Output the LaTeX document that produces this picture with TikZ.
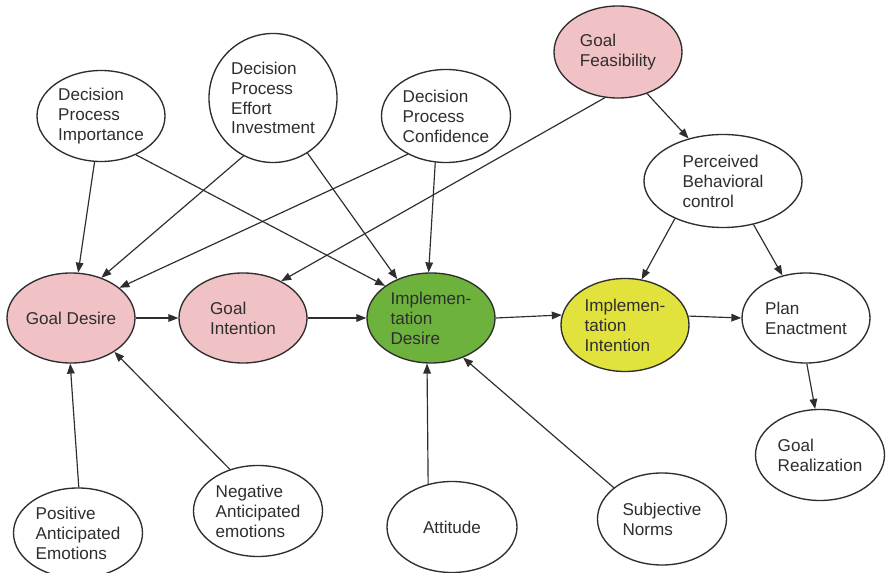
\documentclass[tikz,border=0pt]{standalone}
\usepackage{fontspec}
\setmainfont{Liberation Sans}
\usetikzlibrary{shapes.geometric,arrows.meta}
\definecolor{pinkfill}{HTML}{F0C2C5}
\definecolor{greenfill}{HTML}{6DB23D}
\definecolor{yellowfill}{HTML}{E2E23C}
\definecolor{ink}{HTML}{2E2E2E}
\begin{document}
\begin{tikzpicture}[x=0.03cm,y=-0.03cm,
  el/.style={ellipse, draw=ink, line width=1.15pt, inner sep=0pt, align=left, text=ink,
    font=\fontsize{14.6}{17}\selectfont, minimum width=3.84cm, minimum height=2.73cm},
  arr/.style={draw=ink, line width=1pt, -{Triangle[length=8.5pt,width=6.5pt]}}]
\useasboundingbox (0,0) rectangle (886,573);
\fill[white] (0,0) rectangle (886,573);
% nodes
\node[el] (dpi) at (101,116) {Decision\\Process\\Importance};
\node[el, minimum height=3.87cm] (dpei) at (273,98) {Decision\\Process\\Effort\\Investment};
\node[el, minimum width=3.87cm, minimum height=2.79cm] (dpc) at (446,116) {Decision\\Process\\Confidence};
\node[el, fill=pinkfill, minimum height=2.76cm] (gf) at (618,52) {Goal\\Feasibility};
\node[el, minimum width=4.74cm, minimum height=2.79cm] (pbc) at (723,181) {Perceived\\Behavioral\\control};
\node[el, fill=pinkfill, minimum height=2.7cm] (gd) at (71,318) {Goal Desire};
\node[el, fill=pinkfill, minimum height=2.7cm] (gi) at (243,318) {Goal\\Intention};
\node[el, fill=greenfill, minimum height=2.7cm] (id) at (431,318) {Implemen-\\tation\\Desire};
\node[el, fill=yellowfill, minimum height=2.79cm] (ii) at (625,325) {Implemen-\\tation\\Intention};
\node[el, minimum height=2.7cm] (pe) at (806,318) {Plan\\Enactment};
\node[el, minimum width=3.87cm] (gr) at (820,455) {Goal\\Realization};
\node[el, minimum width=3.87cm, minimum height=2.7cm] (pae) at (78,533) {Positive\\Anticipated\\Emotions};
\node[el, minimum width=3.87cm] (nae) at (258,511) {Negative\\Anticipated\\emotions};
\node[el, minimum width=3.9cm] (att) at (452,527) {Attitude};
\node[el, minimum width=3.87cm, minimum height=2.76cm] (sn) at (662,519) {Subjective\\Norms};
% connectors
\draw[arr] (dpi.-98.5) -- (gd.81);
\draw[arr] (dpi.-48.9) -- (id.145.5);
\draw[arr] (dpei.-117) -- (gd.53.3);
\draw[arr] (dpei.-58.4) -- (id.131.3);
\draw[arr] (dpc.-135) -- (gd.32.9);
\draw[arr] (dpc.-103) -- (id.93.6);
\draw[arr] (gf.-106) -- (gi.44.3);
\draw[arr] (gf.-55) -- (pbc.129);
\draw[arr] (pbc.-142.6) -- (ii.70);
\draw[arr] (pbc.-55.7) -- (pe.119);
\draw[arr] (gd.east) -- (gi.west);
\draw[arr] (gi.east) -- (id.west);
\draw[arr] (id.east) -- (ii.171.8);
\draw[arr] (ii.8.2) -- (pe.west);
\draw[arr] (pe.-89) -- (gr.96);
\draw[arr] (pae.89) -- (gd.-91);
\draw[arr] (nae.124.3) -- (gd.-38.2);
\draw[arr] (att.119) -- (id.-95);
\draw[arr] (sn.147.7) -- (id.-51);
\end{tikzpicture}
\end{document}
